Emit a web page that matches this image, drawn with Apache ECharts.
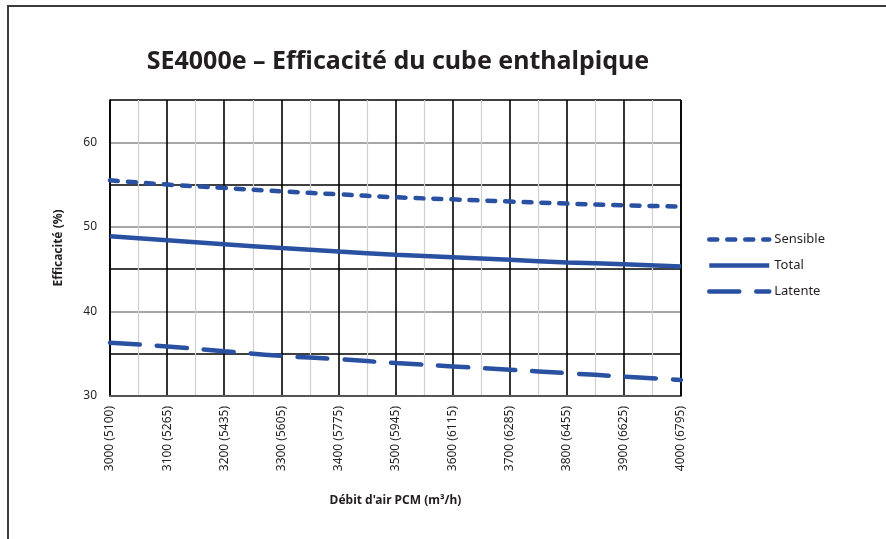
<!DOCTYPE html>
<html><head><meta charset="utf-8">
<script src="https://cdn.jsdelivr.net/npm/echarts@6/dist/echarts.min.js"></script>
<style>
html,body{margin:0;padding:0;background:#fff;}
#frame{position:absolute;left:7px;top:5px;width:877px;height:532px;border-left:2px solid #3c3c3c;border-top:2px solid #3c3c3c;border-right:1px solid #e0e0e0;border-bottom:2px solid #e0e0e0;}
#c{position:absolute;left:0;top:0;width:886px;height:539px;}
</style></head>
<body><div id="frame"></div><div id="c"></div>
<script>
const flowsCFM = [3000,3100,3200,3300,3400,3500,3600,3700,3800,3900,4000];
const tickLabels = ['3000 (5100)','3100 (5265)','3200 (5435)','3300 (5605)','3400 (5775)','3500 (5945)','3600 (6115)','3700 (6285)','3800 (6455)','3900 (6625)','4000 (6795)'];
const sensible = [55.5,55.0,54.6,54.2,53.85,53.5,53.25,53.0,52.75,52.55,52.4];
const total = [48.9,48.42,47.95,47.5,47.08,46.7,46.4,46.1,45.8,45.57,45.3];
const latente = [36.3,35.85,35.3,34.75,34.35,33.9,33.5,33.1,32.7,32.3,31.9];
const seriesNames = ['Sensible','Total','Latente'];

const color = '#2a50a2';
const font = '"Noto Sans", "Open Sans", sans-serif';
function pairs(arr){ return flowsCFM.map((x,i)=>[x,arr[i]]); }

const chart = echarts.init(document.getElementById('c'), null, {renderer:'canvas'});
chart.setOption({
  animation:false,
  backgroundColor:'transparent',
  title:{text:'SE4000e – Efficacité du cube enthalpique', left:393, textAlign:'center', top:44,
    textStyle:{fontFamily:font, fontWeight:'bold', fontSize:25, color:'#231f20'}},
  legend:{orient:'vertical', left:702, top:228, itemWidth:60, itemHeight:8, itemGap:13, itemStyle:{opacity:0},
    lineStyle:{width:4.5}, data:seriesNames, textStyle:{fontFamily:font, fontSize:13, color:'#231f20'}},
  grid:{left:110, right:205, top:100, bottom:143, containLabel:false},
  xAxis:{type:'value', min:3000, max:4000, interval:100,
    name:"Débit d'air PCM (m³/h)", nameLocation:'middle', nameGap:99,
    nameTextStyle:{fontFamily:font, fontWeight:'bold', fontSize:12, color:'#231f20'},
    axisLine:{show:true, lineStyle:{color:'#555', width:2}},
    axisTick:{show:false},
    axisLabel:{rotate:90, margin:10, fontFamily:font, fontSize:12, color:'#231f20',
      formatter:function(v){ const i = flowsCFM.indexOf(Math.round(v)); return i>=0 ? tickLabels[i] : ''; }},
    splitLine:{show:true, lineStyle:{color:'#000', width:1.6}},
    minorTick:{show:false, splitNumber:2},
    minorSplitLine:{show:true, lineStyle:{color:'#cfcfcf', width:1.2}}
  },
  yAxis:{type:'value', min:30, max:65, interval:5,
    name:'Efficacité (%)', nameLocation:'middle', nameGap:45,
    nameTextStyle:{fontFamily:font, fontWeight:'bold', fontSize:12, color:'#231f20'},
    axisLine:{show:true, lineStyle:{color:'#000', width:1.6}},
    axisTick:{show:false},
    axisLabel:{margin:13, fontFamily:font, fontSize:12, color:'#231f20',
      formatter:function(v){ return v%10===0 && v<65 ? String(v) : ''; }},
    splitLine:{show:true, lineStyle:{color:['#8a8a8a','#000'], width:1.6}}
  },
  graphic:[{type:'line', shape:{x1:681, y1:100, x2:681, y2:396}, style:{stroke:'#000', lineWidth:1.6}, z:5}],
  series:[
    {name:'Sensible', type:'line', data:pairs(sensible), smooth:true, showSymbol:false, symbol:'none',
      lineStyle:{color:color, width:4.5, type:[8,10], cap:'round'}, itemStyle:{color:color}, z:10},
    {name:'Total', type:'line', data:pairs(total), smooth:true, showSymbol:false, symbol:'none',
      lineStyle:{color:color, width:4.5, type:'solid'}, itemStyle:{color:color}, z:10},
    {name:'Latente', type:'line', data:pairs(latente), smooth:true, showSymbol:false, symbol:'none',
      lineStyle:{color:color, width:4.5, type:[30,17], cap:'round'}, itemStyle:{color:color}, z:10}
  ]
});
</script></body></html>
